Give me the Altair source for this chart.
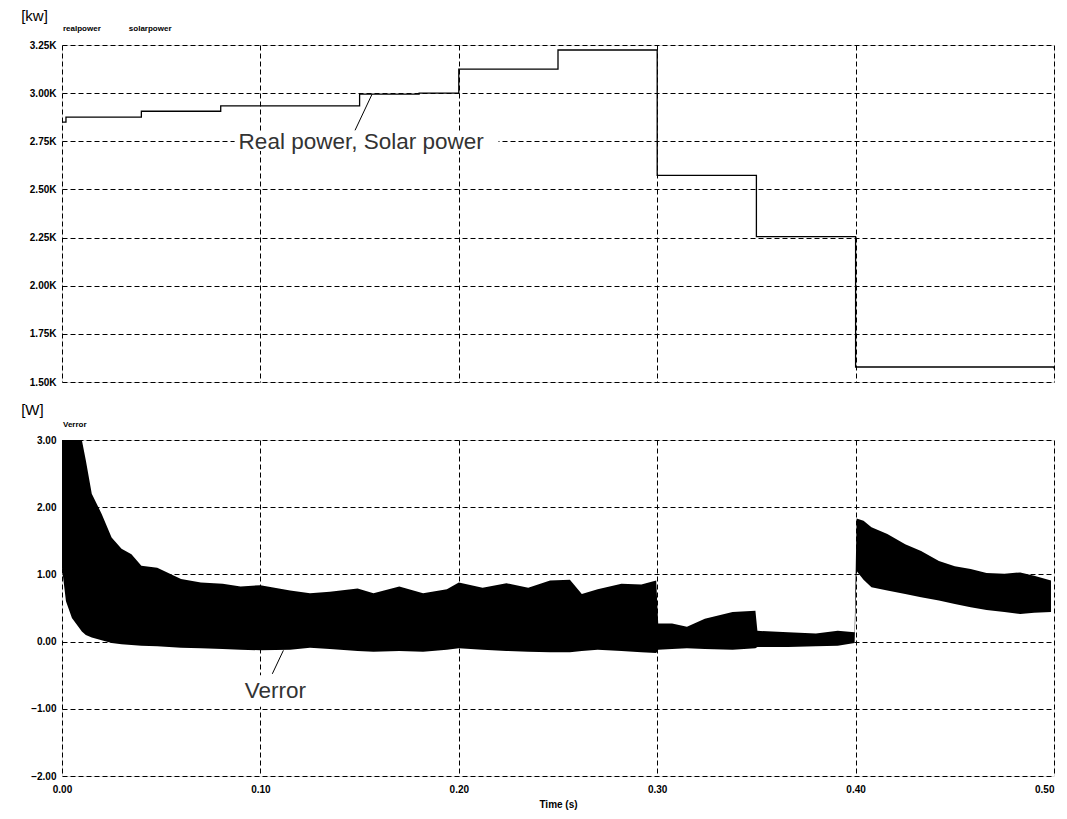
import altair as alt
import pandas as pd

# ---------------- data ----------------
# Top panel: real power / solar power step signal (W)
step_t = [0.0, 0.002, 0.04, 0.08, 0.15, 0.18, 0.20, 0.25, 0.30, 0.35, 0.40, 0.50]
step_p = [2850, 2875, 2906, 2934, 2995, 3000, 3125, 3224, 2573, 2255, 1578, 1570]

# Bottom panel: Verror envelope (upper / lower bound of the oscillation, W)
ve_t = [0.000, 0.002, 0.005, 0.010, 0.012, 0.015, 0.020, 0.025, 0.030, 0.035,
        0.040, 0.048, 0.060, 0.070, 0.081, 0.090, 0.100, 0.115, 0.125, 0.135,
        0.149, 0.157, 0.170, 0.182, 0.194, 0.200, 0.212, 0.224, 0.235, 0.246,
        0.256, 0.262, 0.270, 0.282, 0.292, 0.2995, 0.3005, 0.3075, 0.315, 0.324,
        0.338, 0.3495, 0.3505, 0.366, 0.380, 0.391, 0.3995, 0.4005, 0.404, 0.408,
        0.416, 0.425, 0.433, 0.442, 0.450, 0.458, 0.466, 0.475, 0.483, 0.490, 0.4985]
ve_hi = [3.00, 3.00, 3.00, 3.00, 2.70, 2.20, 1.90, 1.55, 1.38, 1.30,
         1.13, 1.10, 0.93, 0.88, 0.86, 0.82, 0.84, 0.76, 0.72, 0.74,
         0.79, 0.72, 0.82, 0.72, 0.78, 0.88, 0.80, 0.87, 0.80, 0.91,
         0.92, 0.71, 0.78, 0.86, 0.85, 0.91, 0.27, 0.27, 0.22, 0.34,
         0.44, 0.46, 0.16, 0.14, 0.12, 0.16, 0.14, 1.83, 1.80, 1.70,
         1.60, 1.45, 1.35, 1.20, 1.12, 1.08, 1.02, 1.01, 1.03, 0.98, 0.91]
ve_lo = [1.10, 0.60, 0.35, 0.15, 0.10, 0.06, 0.02, -0.02, -0.04, -0.05,
         -0.06, -0.07, -0.09, -0.10, -0.11, -0.12, -0.13, -0.12, -0.09, -0.11,
         -0.14, -0.15, -0.14, -0.15, -0.12, -0.10, -0.12, -0.14, -0.15, -0.16,
         -0.16, -0.14, -0.12, -0.14, -0.16, -0.17, -0.12, -0.11, -0.10, -0.11,
         -0.12, -0.10, -0.08, -0.08, -0.07, -0.06, -0.02, 1.05, 0.92, 0.81,
         0.76, 0.71, 0.66, 0.61, 0.56, 0.51, 0.47, 0.44, 0.41, 0.43, 0.44]

x_ticks = [0.0, 0.1, 0.2, 0.3, 0.4, 0.5]
top_ticks = [1500, 1750, 2000, 2250, 2500, 2750, 3000, 3250]
bot_ticks = [-2, -1, 0, 1, 2, 3]

# annotation texts
top_unit = "[kw]"
top_series = ["realpower", "solarpower"]
top_series_t = [0.0005, 0.0337]
top_label = "Real power, Solar power"
bot_unit = "[W]"
bot_series = "Verror"
bot_label = "Verror"
x_title = "Time (s)"

# ---------------- styles ----------------
W = 992
H_TOP = 337
H_BOT = 336
TICK_FONT = "Liberation Sans"
GRID = dict(grid=True, gridColor="black", gridDash=[5, 3], gridWidth=1, gridOpacity=1,
            domain=False, ticks=False)

x_scale = alt.Scale(domain=[0, 0.5], nice=False, zero=False)

# ---------------- top panel ----------------
df_step = pd.DataFrame({"t": step_t, "p": step_p})
y_top = alt.Scale(domain=[1500, 3250], nice=False, zero=False)

x_top_axis = alt.Axis(values=x_ticks, labels=False, title=None, minExtent=0, maxExtent=0, **GRID)
y_top_axis = alt.Axis(values=top_ticks, title=None, labelExpr="format(datum.value/1000,'.2f')+'K'",
                      labelFont=TICK_FONT, labelFontSize=10, labelFontWeight="bold",
                      labelColor="black", labelPadding=6, minExtent=53, maxExtent=53, **GRID)

step_line = alt.Chart(df_step).mark_line(interpolate="step-after", color="black", strokeWidth=1.3).encode(
    x=alt.X("t:Q", scale=x_scale, axis=x_top_axis),
    y=alt.Y("p:Q", scale=y_top, axis=y_top_axis),
)

# white box behind the big label, label and leader line
df_tbox = pd.DataFrame({"t1": [0.087], "t2": [0.220], "p1": [2700], "p2": [2800]})
top_box = alt.Chart(df_tbox).mark_rect(color="white").encode(
    x=alt.X("t1:Q", scale=x_scale), x2="t2:Q", y=alt.Y("p1:Q", scale=y_top), y2="p2:Q")

df_tlab = pd.DataFrame({"t": [0.1508], "p": [2745], "s": [top_label]})
top_text = alt.Chart(df_tlab).mark_text(font=TICK_FONT, fontSize=22.5, fontWeight="normal", color="#333",
                                        align="center", baseline="middle").encode(
    x=alt.X("t:Q", scale=x_scale), y=alt.Y("p:Q", scale=y_top), text="s:N")

df_tlead = pd.DataFrame({"t1": [0.1563], "p1": [2995], "t2": [0.1477], "p2": [2807]})
top_lead = alt.Chart(df_tlead).mark_rule(color="black", strokeWidth=1).encode(
    x=alt.X("t1:Q", scale=x_scale), y=alt.Y("p1:Q", scale=y_top), x2="t2:Q", y2="p2:Q")

df_tunit = pd.DataFrame({"t": [-0.0206], "p": [3402], "s": [top_unit]})
top_unit_text = alt.Chart(df_tunit).mark_text(font="Liberation Sans", fontSize=15, color="black",
                                              align="left", baseline="middle").encode(
    x=alt.X("t:Q", scale=x_scale), y=alt.Y("p:Q", scale=y_top), text="s:N")

df_tser = pd.DataFrame({"t": top_series_t, "p": [3335, 3335], "s": top_series})
top_ser_text = alt.Chart(df_tser).mark_text(font=TICK_FONT, fontSize=8, fontWeight="bold", color="black",
                                            align="left", baseline="middle").encode(
    x=alt.X("t:Q", scale=x_scale), y=alt.Y("p:Q", scale=y_top), text="s:N")

top = alt.layer(top_box, step_line, top_lead, top_text, top_unit_text, top_ser_text).properties(
    width=W, height=H_TOP)

# ---------------- bottom panel ----------------
df_ve = pd.DataFrame({"t": ve_t, "hi": ve_hi, "lo": ve_lo})
y_bot = alt.Scale(domain=[-2, 3], nice=False, zero=False)

x_bot_axis = alt.Axis(values=x_ticks, format=".2f", title=x_title, labelFont=TICK_FONT, labelFontSize=10,
                      labelFontWeight="bold", labelColor="black", labelPadding=8, labelFlush=False,
                      labelAlign=alt.condition("datum.value >= 0.5", alt.value("right"), alt.value("center")),
                      titleFont=TICK_FONT, titleFontSize=10, titleFontWeight="bold", titleColor="black",
                      titlePadding=5, **GRID)
y_bot_axis = alt.Axis(values=bot_ticks, format=".2f", title=None, labelFont=TICK_FONT, labelFontSize=10,
                      labelFontWeight="bold", labelColor="black", labelPadding=6,
                      minExtent=53, maxExtent=53, **GRID)

band = alt.Chart(df_ve).mark_area(color="black", opacity=1, strokeWidth=0).encode(
    x=alt.X("t:Q", scale=x_scale, axis=x_bot_axis),
    y=alt.Y("hi:Q", scale=y_bot, axis=y_bot_axis),
    y2="lo:Q",
)

df_bbox = pd.DataFrame({"t1": [0.090], "t2": [0.125], "v1": [-0.50], "v2": [-0.97]})
bot_box = alt.Chart(df_bbox).mark_rect(color="white").encode(
    x=alt.X("t1:Q", scale=x_scale), x2="t2:Q", y=alt.Y("v1:Q", scale=y_bot), y2="v2:Q")

df_blab = pd.DataFrame({"t": [0.1075], "v": [-0.74], "s": [bot_label]})
bot_text = alt.Chart(df_blab).mark_text(font=TICK_FONT, fontSize=22.5, fontWeight="normal", color="#333",
                                        align="center", baseline="middle").encode(
    x=alt.X("t:Q", scale=x_scale), y=alt.Y("v:Q", scale=y_bot), text="s:N")

df_blead = pd.DataFrame({"t1": [0.1116], "v1": [-0.13], "t2": [0.106], "v2": [-0.48]})
bot_lead = alt.Chart(df_blead).mark_rule(color="black", strokeWidth=1).encode(
    x=alt.X("t1:Q", scale=x_scale), y=alt.Y("v1:Q", scale=y_bot), x2="t2:Q", y2="v2:Q")

df_bunit = pd.DataFrame({"t": [-0.0206], "v": [3.44], "s": [bot_unit]})
bot_unit_text = alt.Chart(df_bunit).mark_text(font="Liberation Sans", fontSize=15, color="black",
                                              align="left", baseline="middle").encode(
    x=alt.X("t:Q", scale=x_scale), y=alt.Y("v:Q", scale=y_bot), text="s:N")

df_bser = pd.DataFrame({"t": [0.0005], "v": [3.22], "s": [bot_series]})
bot_ser_text = alt.Chart(df_bser).mark_text(font=TICK_FONT, fontSize=8, fontWeight="bold", color="black",
                                            align="left", baseline="middle").encode(
    x=alt.X("t:Q", scale=x_scale), y=alt.Y("v:Q", scale=y_bot), text="s:N")

bottom = alt.layer(band, bot_box, bot_lead, bot_text, bot_unit_text, bot_ser_text).properties(
    width=W, height=H_BOT)

chart = alt.vconcat(top, bottom, spacing=14).properties(padding=0).configure_view(
    stroke="black", strokeWidth=1.5
).configure(background="white")

chart.save("out.html", embed_options={"renderer": "svg", "actions": False})
